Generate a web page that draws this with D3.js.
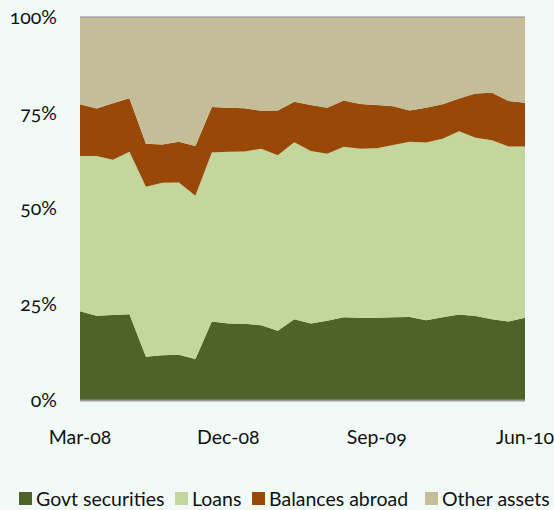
<!DOCTYPE html>
<html>
<head>
<meta charset="utf-8">
<script src="https://cdn.jsdelivr.net/npm/d3@7"></script>
<style>
  body { margin: 0; background: #f2faf7; }
  svg text { font-family: Lato, "Open Sans", sans-serif; font-size: 19.5px; fill: #111; font-variant-numeric: oldstyle-nums; }
</style>
</head>
<body>
<svg id="chart" width="554" height="510"></svg>
<script>
// monthly, Mar-08 .. Jun-10
const months = ["Mar-08","Apr-08","May-08","Jun-08","Jul-08","Aug-08","Sep-08","Oct-08","Nov-08","Dec-08",
  "Jan-09","Feb-09","Mar-09","Apr-09","May-09","Jun-09","Jul-09","Aug-09","Sep-09","Oct-09","Nov-09","Dec-09",
  "Jan-10","Feb-10","Mar-10","Apr-10","May-10","Jun-10"];
const tickLabels = ["Mar-08", "Dec-08", "Sep-09", "Jun-10"];
const yTicks = [0, 25, 50, 75, 100];

const govt = [23.2,22.0,22.2,22.4,11.3,11.7,11.8,10.7,20.5,20.0,19.9,19.5,18.1,21.1,20.0,20.7,21.6,21.5,21.5,21.6,21.7,20.8,21.6,22.3,21.9,21.1,20.5,21.5];
const loans = [40.5,41.7,40.5,42.4,44.4,45.0,45.0,42.6,44.1,44.8,45.0,46.1,45.8,46.2,45.0,43.6,44.5,44.1,44.2,45.0,45.7,46.4,46.6,47.9,46.6,46.7,45.7,44.7];
const balances = [13.5,12.4,14.8,14.0,11.2,10.0,10.6,13.0,11.9,11.5,11.3,9.9,11.7,10.6,12.0,12.0,12.1,11.7,11.3,10.1,8.2,9.1,9.0,8.5,11.5,12.4,11.9,11.4];
const other = [22.8,23.9,22.5,21.2,33.1,33.3,32.6,33.7,23.5,23.7,23.8,24.5,24.4,22.1,23.0,23.7,21.8,22.7,23.0,23.3,24.4,23.7,22.8,21.3,20.0,19.8,21.9,22.4];

const seriesNames = ["Govt securities", "Loans", "Balances abroad", "Other assets"];
const colors = ["#4f6228", "#c3d69b", "#984807", "#c4bd97"];

const rows = months.map((m, i) => ({
  month: m,
  "Govt securities": govt[i],
  "Loans": loans[i],
  "Balances abroad": balances[i],
  "Other assets": other[i]
}));

const svg = d3.select("#chart");
const plotLeft = 80, plotRight = 525, plotTop = 17, plotBottom = 400;

const x = d3.scalePoint().domain(months).range([plotLeft, plotRight]);
const y = d3.scaleLinear().domain([0, 100]).range([plotBottom, plotTop]);

const stack = d3.stack().keys(seriesNames).offset(d3.stackOffsetExpand);
const layers = stack(rows);

const area = d3.area()
  .x(d => x(d.data.month))
  .y0(d => y(d[0] * 100))
  .y1(d => y(d[1] * 100));

svg.append("g").selectAll("path")
  .data(layers)
  .enter().append("path")
  .attr("fill", (d, i) => colors[i])
  .attr("d", area);

// top gridline (100%)
svg.append("line")
  .attr("x1", plotLeft).attr("x2", plotRight)
  .attr("y1", y(100)).attr("y2", y(100))
  .attr("stroke", "#888").attr("stroke-width", 1);

// x axis line
svg.append("line")
  .attr("x1", plotLeft).attr("x2", plotRight)
  .attr("y1", y(0) + 0.5).attr("y2", y(0) + 0.5)
  .attr("stroke", "#999").attr("stroke-width", 2);

// y labels
svg.append("g").selectAll("text")
  .data(yTicks)
  .enter().append("text")
  .attr("x", 57)
  .attr("y", d => y(d))
  .attr("dy", "0.35em")
  .attr("text-anchor", "end")
  .text(d => d + "%");

// x labels
svg.append("g").selectAll("text")
  .data(tickLabels)
  .enter().append("text")
  .attr("x", d => x(d))
  .attr("y", 444)
  .attr("text-anchor", "middle")
  .text(d => d);

// legend
const legendX = [19, 175, 252, 425];
const legend = svg.append("g").selectAll("g")
  .data(seriesNames)
  .enter().append("g")
  .attr("transform", (d, i) => "translate(" + legendX[i] + ",492)");
legend.append("rect")
  .attr("width", 13).attr("height", 13)
  .attr("y", 0)
  .attr("fill", (d, i) => colors[i]);
legend.append("text")
  .attr("x", 17)
  .attr("y", 13.5)
  .text(d => d);
</script>
</body>
</html>
